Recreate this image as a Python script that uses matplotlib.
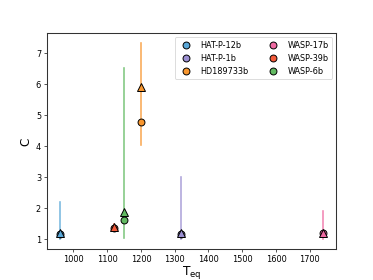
import matplotlib
matplotlib.use("Agg")
import matplotlib.pyplot as plt

# data
planets = ["HAT-P-12b", "HAT-P-1b", "HD189733b", "WASP-17b", "WASP-39b", "WASP-6b"]
colors = ["#5aa8d8", "#9b8fd2", "#f8962e", "#ef6aa2", "#f25a3a", "#62ba62"]
teq = [960, 1320, 1200, 1740, 1120, 1150]
c_circle = [1.17, 1.18, 4.78, 1.19, 1.38, 1.62]
c_triangle = [1.20, 1.20, 5.90, 1.20, 1.41, 1.89]
err_low = [1.00, 1.00, 4.03, 1.00, 1.30, 1.03]
err_high = [2.20, 3.01, 7.32, 1.91, 1.48, 6.51]

fig, ax = plt.subplots(figsize=(6.4, 4.8), dpi=58.4)

for i, name in enumerate(planets):
    ax.plot([teq[i], teq[i]], [err_low[i], err_high[i]], color=colors[i],
            lw=2, alpha=0.8, zorder=1)
    ax.plot(teq[i], c_circle[i], 'o', color=colors[i], mec='k', mew=1.2,
            ms=8.5, label=name, zorder=2)
    ax.plot(teq[i], c_triangle[i], '^', color=colors[i], mec='k', mew=1.2,
            ms=9, zorder=3)

for sp in ax.spines.values():
    sp.set_linewidth(1.3)
    sp.set_color('#333333')

ax.set_xlabel(r'$\mathrm{T_{eq}}$', fontsize=15, labelpad=0)
ax.set_ylabel('C', fontsize=15)
ax.legend(ncol=2, loc='upper right', fontsize=10)

fig.savefig("out.png", dpi=58.4)
